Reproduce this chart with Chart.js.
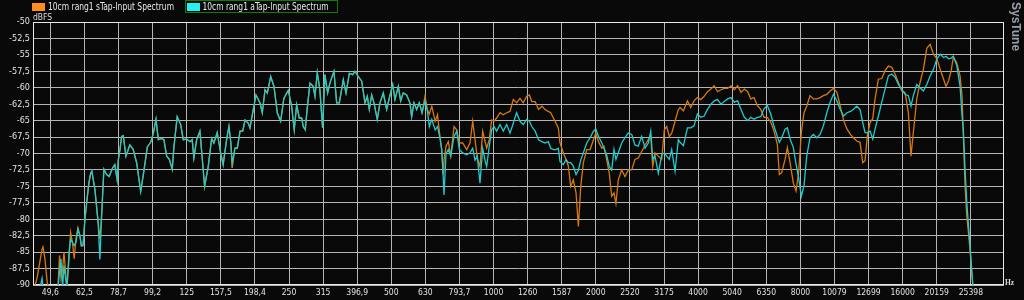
<!DOCTYPE html>
<html>
<head>
<meta charset="utf-8">
<script src="https://cdn.jsdelivr.net/npm/chart.js@4.4.0/dist/chart.umd.min.js"></script>
<style>
  html, body { margin: 0; padding: 0; background: #090909; }
  #wrap { position: relative; width: 1024px; height: 300px; }
</style>
</head>
<body>
<div id="wrap"><canvas id="spectrum"></canvas></div>
<script>
const freqs = [
  44.4, 45.3, 46.2, 46.9, 47.2, 47.8, 48.6, 49.5, 51.2, 52.2,
  52.8, 53.3, 53.9, 54.4, 55.0, 55.5, 56.3, 56.9, 57.6, 58.3,
  59.0, 59.8, 60.6, 61.2, 61.9, 62.7, 63.6, 64.4, 65.2, 65.7,
  67.1, 68.6, 69.4, 70.2, 71.3, 72.6, 73.9, 75.6, 76.8, 78.0,
  78.6, 79.5, 80.4, 81.3, 82.8, 85.0, 87.0, 89.1, 91.5, 93.6,
  95.7, 97.9, 99.7, 101.5, 103.1, 105.5, 107.1, 109.1, 111.1, 113.3,
  114.6, 117.2, 120.0, 122.1, 124.9, 127.8, 129.7, 131.2, 133.7, 136.7,
  139.8, 141.1, 144.6, 148.0, 150.3, 153.7, 157.3, 160.0, 163.8, 166.4,
  168.6, 170.1, 173.3, 176.1, 179.4, 182.7, 185.6, 189.8, 191.9, 195.5,
  199.9, 205.4, 208.6, 212.5, 215.8, 220.8, 225.8, 230.9, 236.2, 241.5,
  248.8, 254.5, 259.0, 263.3, 268.0, 272.4, 275.3, 279.1, 282.9, 288.2,
  294.6, 298.1, 302.8, 308.2, 313.9, 318.9, 324.8, 329.9, 339.0, 345.3,
  351.6, 361.2, 367.9, 376.3, 385.0, 391.0, 399.9, 409.2, 418.4, 425.0,
  430.8, 437.8, 444.7, 454.7, 463.1, 473.6, 484.6, 493.3, 504.8, 512.7,
  524.4, 532.8, 542.3, 554.8, 567.4, 574.0, 583.1, 593.9, 604.6, 615.8,
  628.5, 638.4, 647.2, 658.0, 673.2, 684.0, 697.0, 703.8, 711.5, 714.8,
  724.6, 735.9, 748.1, 765.0, 779.0, 793.0, 811.4, 833.7, 852.5, 868.2,
  881.9, 895.6, 912.2, 929.0, 943.6, 954.4, 971.5, 987.3, 1003, 1021,
  1045, 1068, 1093, 1118, 1143, 1169, 1196, 1223, 1252, 1275,
  1296, 1326, 1356, 1388, 1417, 1449, 1473, 1500, 1527, 1551,
  1569, 1605, 1634, 1660, 1687, 1717, 1749, 1777, 1806, 1838,
  1881, 1924, 1968, 2000, 2036, 2083, 2113, 2152, 2191, 2227,
  2262, 2292, 2329, 2383, 2437, 2492, 2551, 2607, 2666, 2729,
  2793, 2855, 2902, 2941, 2987, 3055, 3126, 3182, 3234, 3291,
  3345, 3421, 3499,
  3540, 3621, 3722, 3804, 3891, 3980, 4074, 4167, 4262, 4362,
  4462, 4563, 4670, 4776, 4885, 4999, 5113, 5229, 5351, 5473,
  5598, 5715, 5844, 5976, 6116, 6253, 6395, 6545, 6692, 6844,
  6936, 7050, 7211, 7325, 7461, 7628, 7770, 7908, 8052, 8201,
  8351, 8540, 8735, 8939, 9143, 9350, 9570, 9788, 10014, 10248,
  10483, 10725, 10977, 11230, 11455, 11721, 11987, 12209, 12400, 12595,
  12828, 13066, 13271, 13573, 13889, 14203, 14524, 14864, 15199, 15541,
  15904, 16262, 16631, 16932, 17202, 17605, 18006, 18412, 18843, 19272,
  19714, 20178, 20640, 21115, 21468, 21858, 22226, 22558, 23085, 23607,
  23929, 24139, 24422, 24706, 25045, 25388, 25733, 26047
];

// 10cm rang1 sTap-Input Spectrum (orange), dBFS
const sTap = [
  -90.5, -89, -86.5, -84.5, -84.2, -86, -89.8, -90.5, -90.5, -90.5,
  -85.5, -89, -87.5, -85, -88, -90.5, -86, -82, -83.5, -86,
  -83, -81.3, -82.5, -84.1, -84, -80, -77, -74.5, -73, -72.7,
  -75.5, -80.6, -83, -79.5, -72.4, -73.2, -73.5, -72.2, -71.7, -74,
  -71, -69.4, -67.4, -67.3, -70.4, -68.7, -69.4, -71.5, -75.8, -72.5,
  -69, -68.3, -66.9, -64.8, -67.9, -67.7, -67.9, -70.4, -70.9, -72.4,
  -69, -64.4, -65.6, -67.9, -67.8, -68.2, -67.9, -70.7, -67.9, -66.6,
  -72.5, -75, -72, -67.7, -68.4, -66.8, -69.9, -71.7, -67.9, -65.9,
  -68.4, -72.2, -69.2, -69.2, -66.6, -66.6, -64.9, -65.4, -66.1, -63.8,
  -61.1, -62.3, -63.8, -60.3, -60.8, -58.3, -59.8, -63.8, -65.1, -61.6,
  -60.4, -62.8, -66.4, -62.6, -64.6, -64.6, -65.9, -66.4, -63.1, -59.3,
  -59.8, -61.3, -57.7, -60.3, -66.1, -58, -60.8, -59.3, -57.5, -62.3,
  -62.3, -58.8, -60.8, -57.8, -58, -57.5, -58.3, -59, -62.3, -61.3,
  -63.3, -61.1, -62.3, -64.8, -62.3, -60.8, -63.3, -61.6, -59.5, -61.8,
  -59.8, -62, -60.8, -61.1, -62.3, -64.4, -62.3, -63.3, -62.3, -63.8,
  -61.3, -63.3, -64, -62.8, -65.1, -64.1, -67.9, -69.4, -73.2, -71,
  -68.9, -68.2, -70.4, -65.9, -66.4, -68.4, -68.4, -69.4, -68.4, -65.1,
  -67.9, -70.7, -72, -66.6, -68.1, -69.2, -67.9, -64.9, -65.1, -64.6,
  -63.8, -64.1, -63.8, -63.6, -61.8, -62.3, -61.6, -62.3, -61.3, -61.1,
  -62.1, -62.1, -63.3, -62.8, -63.3, -63.6, -63.8, -64.6, -65.4, -66.1,
  -68.4, -69.9, -70.9, -71.9, -75, -74, -76, -81.1, -75, -71.4,
  -69.4, -69.4, -67.9, -66.9, -68.2, -69.2, -68.9, -70.9, -73, -76.5,
  -76, -77.6, -74, -72.5, -73.5, -72.5, -72.5, -70.9, -70.7, -69.7,
  -68.7, -67.9, -67.4, -72, -69.9, -70.4, -70.9, -66.4, -65.9, -67.4,
  -66.9, -65.1, -63.3,
  -63.0, -63.5, -62.0, -63.0, -62.0, -61.5, -61.8, -61.3, -60.6, -60.2,
  -59.7, -60.6, -60.3, -60.1, -60.1, -59.7, -60.3, -59.7, -60.7, -60.2,
  -60.6, -61.7, -61.5, -62.7, -63.3, -64.5, -64.5, -65.2, -66.6, -68.6,
  -73.2, -72.9, -70.9, -69.1, -71.4, -74.5, -75.7, -72.9, -66.8, -63.8,
  -62.8, -61.2, -61.7, -61.7, -61.5, -61.2, -61.0, -60.5, -60.1, -60.7,
  -62.8, -65.0, -66.3, -67.1, -67.6, -68.1, -68.3, -71.4, -71.1, -67.3,
  -65.3, -64.7, -61.7, -58.7, -58.6, -57.4, -56.7, -56.9, -57.9, -59.2,
  -60.5, -60.7, -63.8, -70.4, -66.8, -61.7, -59.2, -57.2, -54.0, -53.4,
  -54.9, -55.6, -57.2, -58.7, -59.8, -58.9, -57.4, -55.4, -56.2, -58.2,
  -61.2, -67.3, -74.9, -79.5, -82.5, -86.1, -90.0, -92
];

// 10cm rang1 aTap-Input Spectrum (cyan), dBFS
const aTap = [
  -90.5, -90.5, -90.5, -89, -90.5, -90.5, -90.5, -90.5, -90.5, -90.5,
  -88, -86, -90.5, -87, -89, -90.5, -85, -83, -83.5, -84,
  -83.5, -81.5, -82.5, -84, -84, -80, -77, -74.5, -73, -72.7,
  -75.5, -80.6, -86.1, -79.5, -72.4, -73.2, -73.5, -72.2, -71.7, -74,
  -71, -69.4, -67.4, -67.3, -70.4, -68.7, -69.4, -71.5, -75.8, -72.5,
  -69, -68.3, -66.9, -64.8, -67.9, -67.7, -67.9, -70.4, -70.9, -72.4,
  -69, -64.4, -65.6, -67.9, -67.8, -68.2, -67.9, -70.7, -67.9, -66.6,
  -72.5, -75, -72, -67.7, -68.4, -66.8, -69.9, -71.7, -67.9, -65.9,
  -68.4, -71.5, -69.2, -69.2, -66.6, -66.6, -64.9, -65.4, -66.1, -63.8,
  -61.1, -62.3, -63.8, -60.3, -60.8, -58.3, -59.8, -63.8, -65.1, -61.6,
  -60.4, -62.8, -66.4, -62.6, -64.6, -64.6, -65.9, -66.4, -63.1, -59.3,
  -59.8, -61.3, -57.7, -60.3, -66.1, -58, -60.8, -59.3, -57.5, -62.3,
  -62.3, -58.8, -60.8, -57.8, -58, -57.5, -58.3, -59, -62.3, -61.3,
  -63.3, -61.1, -62.3, -64.8, -62.3, -60.8, -63.3, -61.6, -59.5, -61.8,
  -59.8, -62, -60.8, -61.1, -62.3, -64.4, -62.3, -63.3, -62.3, -63.8,
  -62, -63.5, -65.9, -64.8, -66.4, -65.9, -67.9, -69.4, -74, -76.3,
  -70, -69.4, -70.4, -67.4, -66.6, -69.4, -69.9, -70.2, -69.9, -69.2,
  -71, -70.4, -74.5, -69.2, -71, -72, -68.9, -66.4, -65.9, -66.6,
  -65.6, -66.6, -65.6, -66.9, -65.4, -63.8, -65.1, -65.6, -64.8, -65.1,
  -65.9, -66.6, -67.9, -68.2, -68.4, -68.2, -69.2, -69.4, -69.4, -69.2,
  -71.2, -71.7, -70.9, -71.4, -71.4, -71.9, -73.2, -72.5, -71, -69.9,
  -68.4, -67.6, -66.6, -66.3, -67.4, -68.4, -69.2, -70.2, -72, -72.5,
  -69.4, -70.9, -69.9, -68.4, -67.6, -66.9, -67.1, -68.7, -68.9, -67.4,
  -69.2, -68.4, -66.6, -70.9, -70.4, -73, -70.2, -69.9, -70.4, -70.9,
  -69.4, -72.7, -67.9,
  -68.3, -68.8, -66.1, -66.1, -65.8, -64.0, -64.5, -64.3, -63.3, -62.5,
  -62.0, -61.8, -62.5, -62.1, -61.7, -61.5, -62.2, -62.0, -63.3, -64.5,
  -65.0, -64.5, -64.8, -64.5, -64.4, -63.2, -62.7, -64.0, -65.9, -67.4,
  -68.3, -67.6, -66.3, -66.1, -67.8, -69.1, -71.6, -73.7, -76.5, -74.9,
  -70.4, -67.6, -67.1, -67.6, -67.1, -65.8, -63.8, -62.2, -61.0, -62.0,
  -63.3, -64.3, -63.8, -63.6, -63.3, -62.8, -63.3, -65.3, -66.8, -66.9,
  -66.6, -67.8, -66.3, -64.3, -62.2, -60.2, -58.2, -57.9, -58.4, -59.5,
  -60.2, -61.0, -61.2, -62.8, -61.2, -59.5, -60.0, -60.5, -59.5, -58.2,
  -57.2, -55.6, -54.9, -55.4, -55.2, -55.6, -55.5, -55.2, -56.6, -59.7,
  -64.3, -66.3, -72.4, -77.4, -81.5, -85.6, -90.0, -92
];

const seriesLabels = ['10cm rang1 sTap-Input Spectrum', '10cm rang1 aTap-Input Spectrum'];

// third-octave ticks on the frequency axis
const xTickValues = [49.6, 62.5, 78.7, 99.2, 125, 157.5, 198.4, 250, 315, 396.9, 500, 630, 793.7, 1000,
  1260, 1587, 2000, 2520, 3175, 4000, 5040, 6350, 8000, 10079, 12699, 16000, 20159, 25398];
const xTickLabels = ['49,6', '62,5', '78,7', '99,2', '125', '157,5', '198,4', '250', '315', '396,9', '500', '630', '793,7', '1000',
  '1260', '1587', '2000', '2520', '3175', '4000', '5040', '6350', '8000', '10079', '12699', '16000', '20159', '25398'];

const narrow = "'Liberation Sans Narrow', 'DejaVu Sans Condensed', 'Arial Narrow', sans-serif";

// Frame, legend and the small texts round the plot
const overlay = {
    id: 'overlay',
    beforeDatasetsDraw(chart) {
        const { ctx, chartArea: a } = chart;
        ctx.save();
        ctx.strokeStyle = '#e8e8e8';
        ctx.lineWidth = 1;
        ctx.strokeRect(a.left + 0.5, a.top + 0.5, a.right - a.left - 1, a.bottom - a.top - 1);
        ctx.restore();
    },
    afterDraw(chart) {
        const ctx = chart.ctx;
        const sets = chart.data.datasets;
        ctx.save();

        // legend
        const items = [
            { box: 32, text: 48, swatch: sets[0].swatch, label: sets[0].label },
            { box: 187, text: 202.5, swatch: sets[1].swatch, label: sets[1].label }
        ];
        ctx.strokeStyle = '#0f7a0f';
        ctx.lineWidth = 1;
        ctx.strokeRect(185.5, 0.5, 152, 12);
        ctx.font = "10px " + narrow;
        ctx.textBaseline = 'middle';
        items.forEach(it => {
            ctx.fillStyle = it.swatch;
            ctx.fillRect(it.box, 3, 13, 8);
            ctx.fillStyle = '#e8e8e8';
            const w = ctx.measureText(it.label).width;
            ctx.save();
            ctx.translate(it.text, 7.5);
            ctx.scale(126 / w, 1);
            ctx.fillText(it.label, 0, 0);
            ctx.restore();
        });

        // unit labels
        ctx.fillStyle = '#dcdcdc';
        ctx.font = "8.5px " + narrow;
        ctx.textBaseline = 'middle';
        ctx.fillText('dBFS', 33, 18);
        ctx.font = "bold 7.5px 'Liberation Serif', serif";
        ctx.fillText('Hz', 1005, 283);

        // vertical brand text
        ctx.save();
        ctx.translate(1012, 2);
        ctx.rotate(Math.PI / 2);
        ctx.font = "bold 12px 'Liberation Sans', sans-serif";
        ctx.fillStyle = '#98a0a8';
        ctx.textBaseline = 'alphabetic';
        ctx.fillText('SysTune', 0, 0);
        ctx.restore();

        ctx.restore();
    }
};

new Chart(document.getElementById('spectrum'), {
    type: 'line',
    data: {
        datasets: [{
            label: seriesLabels[0],
            data: freqs.map((f, i) => ({ x: f, y: sTap[i] })),
            borderColor: '#d67812',
            swatch: '#ff8c1e',
            borderWidth: 1.3,
            pointRadius: 0,
            tension: 0,
            order: 2
        }, {
            label: seriesLabels[1],
            data: freqs.map((f, i) => ({ x: f, y: aTap[i] })),
            borderColor: '#22cccc',
            swatch: '#22f2f2',
            borderWidth: 1.3,
            pointRadius: 0,
            tension: 0,
            order: 1
        }]
    },
    options: {
        responsive: true,
        maintainAspectRatio: false,
        animation: false,
        layout: { padding: { top: 22, right: 20, left: 0, bottom: 0 } },
        plugins: { legend: { display: false }, tooltip: { enabled: false } },
        scales: {
            x: {
                type: 'logarithmic',
                min: 44.1,
                max: 31800,
                afterBuildTicks: scale => { scale.ticks = xTickValues.map(v => ({ value: v })); },
                afterFit: scale => { scale.height = 15; },
                grid: { color: '#b4b4b4', lineWidth: 1, drawTicks: false },
                border: { display: false },
                ticks: {
                    autoSkip: false,
                    maxRotation: 0,
                    minRotation: 0,
                    padding: 3,
                    color: '#e2e2e2',
                    font: { family: narrow, size: 8.5 },
                    callback: (v, i) => xTickLabels[i]
                }
            },
            y: {
                min: -90,
                max: -50,
                afterFit: scale => { scale.width = 33; },
                grid: { color: '#b4b4b4', lineWidth: 1, drawTicks: false },
                border: { display: false },
                ticks: {
                    stepSize: 2.5,
                    padding: 3,
                    color: '#e2e2e2',
                    font: { family: narrow, size: 9 },
                    callback: v => String(v).replace('.', ',')
                }
            }
        }
    },
    plugins: [overlay]
});
</script>
</body>
</html>
